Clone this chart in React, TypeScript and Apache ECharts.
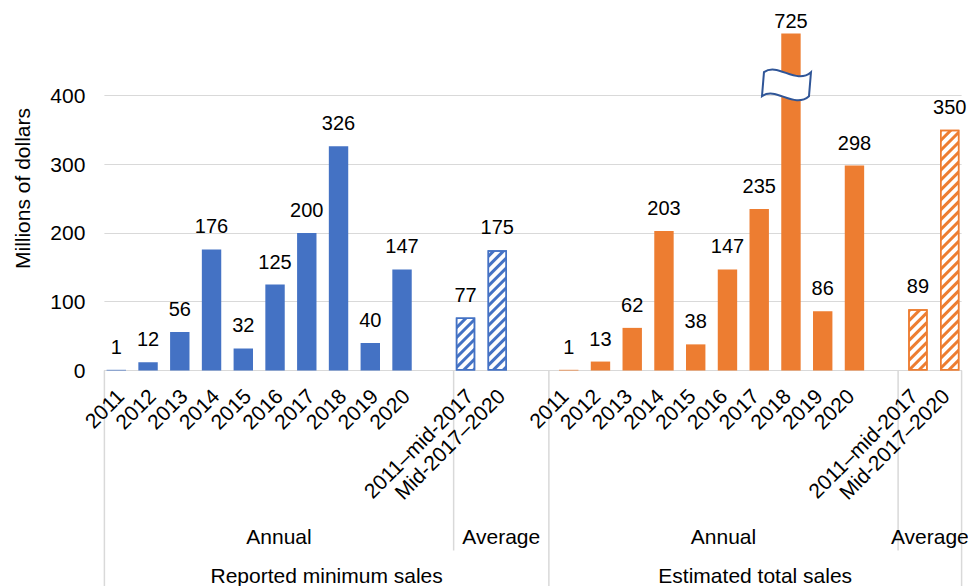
import React, { useEffect, useRef } from "react";
import * as echarts from "echarts";

// Category labels
const years = ["2011", "2012", "2013", "2014", "2015", "2016", "2017", "2018", "2019", "2020"];
const averagePeriods = ["2011–mid-2017", "Mid-2017–2020"];
const groupNames = ["Reported minimum sales", "Estimated total sales"];
const subgroupNames = ["Annual", "Average"];

// Values, millions of dollars
const reportedAnnual = [1, 12, 56, 176, 32, 125, 200, 326, 40, 147];
const reportedAverage = [77, 175];
const estimatedAnnual = [1, 13, 62, 203, 38, 147, 235, 725, 86, 298];
const estimatedAverage = [89, 350];

// Value axis: ticks every 100 up to 400, tall bars are cut at the top
const yMin = 0;
const yMax = 490;
const yInterval = 100;

const BLUE = "#4472C4";
const ORANGE = "#ED7D31";
const GRID_GRAY = "#D9D9D9";
const FONT = "'Liberation Sans', Arial, sans-serif";

// Break marker drawn over the cut bar
const BREAK_PATH = "M1,4 C15,-6 33,17 48,4 L46,28 C31,41 13,18 -1,28 Z";
echarts.graphic.registerShape("axisBreak", echarts.graphic.extendPath(BREAK_PATH, {}));

// Slot layout: years, gap, averages, gap | years, gap, averages
const categories = [...years, "", ...averagePeriods, "", ...years, "", ...averagePeriods];
const reportedStart = 0;
const reportedAvgStart = years.length + 1;
const estimatedStart = reportedAvgStart + averagePeriods.length + 1;
const estimatedAvgStart = estimatedStart + years.length + 1;

function hatched(value: number, color: string) {
  return {
    value,
    itemStyle: {
      color: "#ffffff",
      borderColor: color,
      borderWidth: 1.5,
      decal: {
        symbol: "rect",
        symbolSize: 1,
        color,
        dashArrayX: [1, 0],
        dashArrayY: [3, 3.5],
        rotation: -Math.PI / 4,
      },
    },
  };
}

function buildSeriesData(
  annual: number[],
  average: number[],
  annualStart: number,
  avgStart: number,
  color: string
) {
  const data: any[] = categories.map(() => null);
  annual.forEach((v, i) => {
    data[annualStart + i] = v > yMax ? { value: v, label: { distance: 3 } } : v;
  });
  average.forEach((v, i) => {
    data[avgStart + i] = hatched(v, color);
  });
  return data;
}

export default function App() {
  const ref = useRef<HTMLDivElement>(null);

  useEffect(() => {
    const el = ref.current;
    if (!el) return;
    const chart = echarts.init(el, null, { renderer: "svg" });

    const labelStyle = {
      show: true,
      position: "top",
      distance: 13,
      fontSize: 20,
      color: "#000",
      fontFamily: FONT,
    };

    chart.setOption({
      animation: false,
      textStyle: { fontFamily: FONT },
      grid: {
        left: 104.4,
        right: 6.4,
        top: 33.6,
        bottom: 215.5,
        containLabel: false,
        outerBoundsMode: "none",
      },
      xAxis: {
        type: "category",
        data: categories,
        axisLine: { show: true, lineStyle: { color: GRID_GRAY, width: 1 } },
        axisTick: { show: false },
        axisLabel: {
          interval: 0,
          rotate: 45,
          margin: 22,
          fontSize: 21,
          color: "#000",
          fontFamily: FONT,
        },
        splitLine: { show: false },
      },
      yAxis: {
        type: "value",
        min: yMin,
        max: yMax,
        interval: yInterval,
        axisLine: { show: false },
        axisTick: { show: false },
        axisLabel: {
          showMaxLabel: false,
          margin: 19,
          fontSize: 21,
          color: "#000",
          fontFamily: FONT,
        },
        splitLine: { show: true, showMaxLine: false, lineStyle: { color: GRID_GRAY, width: 1 } },
      },
      series: [
        {
          name: groupNames[0],
          type: "bar",
          barWidth: 19.4,
          barGap: "-59%",
          itemStyle: { color: BLUE },
          label: labelStyle,
          data: buildSeriesData(reportedAnnual, reportedAverage, reportedStart, reportedAvgStart, BLUE),
        },
        {
          name: groupNames[1],
          type: "bar",
          barWidth: 19.4,
          barGap: "-59%",
          itemStyle: { color: ORANGE },
          label: labelStyle,
          data: buildSeriesData(estimatedAnnual, estimatedAverage, estimatedStart, estimatedAvgStart, ORANGE),
        },
      ],
    });

    // Multi-level category labels and group separators below the axis
    const cx = (i: number) => chart.convertToPixel({ xAxisIndex: 0 }, i) as number;
    const slot = cx(1) - cx(0);
    const edge = (i: number) => cx(0) - slot / 2 + slot * i;
    const axisY = chart.convertToPixel({ yAxisIndex: 0 }, 0) as number;
    const bottomY = 586;
    const subLabelY = axisY + 166;
    const subLineEnd = axisY + 180;
    const groupLabelY = axisY + 204.5;

    const vline = (x: number, y2: number) => ({
      type: "line",
      shape: { x1: x, y1: axisY, x2: x, y2 },
      style: { stroke: GRID_GRAY, lineWidth: 1.5 },
      silent: true,
    });
    const text = (t: string, x: number, y: number) => ({
      type: "text",
      x,
      y,
      style: {
        text: t,
        fill: "#000",
        font: `21px ${FONT}`,
        align: "center",
        verticalAlign: "middle",
      },
      silent: true,
    });

    const total = categories.length;
    const elements: any[] = [
      vline(edge(reportedStart), bottomY),
      vline(edge(estimatedStart), bottomY),
      vline(edge(total), bottomY),
      vline(edge(reportedAvgStart), subLineEnd),
      vline(edge(estimatedAvgStart), subLineEnd),
      text(subgroupNames[0], (edge(reportedStart) + edge(reportedAvgStart)) / 2, subLabelY),
      text(subgroupNames[1], (edge(reportedAvgStart) + edge(estimatedStart)) / 2, subLabelY),
      text(subgroupNames[0], (edge(estimatedStart) + edge(estimatedAvgStart)) / 2, subLabelY),
      text(subgroupNames[1], (edge(estimatedAvgStart) + edge(total)) / 2, subLabelY),
      text(groupNames[0], (edge(reportedStart) + edge(estimatedStart)) / 2, groupLabelY),
      text(groupNames[1], (edge(estimatedStart) + edge(total)) / 2, groupLabelY),
    ];

    // Y axis title
    elements.push({
      type: "text",
      x: 22,
      y: 188.5,
      rotation: Math.PI / 2,
      style: {
        text: "Millions of dollars",
        fill: "#000",
        font: `21px ${FONT}`,
        align: "center",
        verticalAlign: "middle",
      },
      silent: true,
    });

    // Break marker over the cut 2018 estimated bar
    const cutSlot = estimatedStart + estimatedAnnual.findIndex((v) => v > yMax);
    const [bx, by] = chart.convertToPixel({ gridIndex: 0 }, [cutSlot, 415]) as number[];
    elements.push({
      type: "axisBreak",
      x: bx - 24,
      y: by - 17,
      z: 100,
      style: { fill: "#ffffff", stroke: "#2F5597", lineWidth: 2 },
      silent: true,
    });

    chart.setOption({ graphic: { elements } });

    return () => chart.dispose();
  }, []);

  return (
    <div
      ref={ref}
      style={{ position: "absolute", left: 0, top: 0, width: 968, height: 586 }}
    />
  );
}
